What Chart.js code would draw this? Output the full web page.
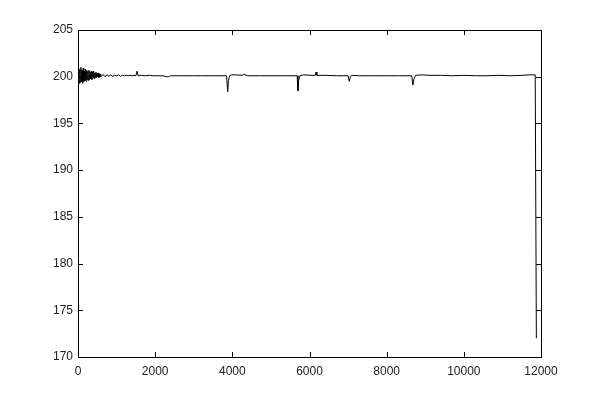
<!DOCTYPE html>
<html>
<head>
<meta charset="utf-8">
<script src="https://cdn.jsdelivr.net/npm/chart.js@4/dist/chart.umd.min.js"></script>
<style>
    html, body { margin: 0; padding: 0; background: #fff; }
</style>
</head>
<body>
<canvas id="grafico" width="598" height="402"></canvas>
<script>
// --- Dados ---
const amostras = [
    0, 15, 30, 45, 60, 75, 90, 105, 120, 135, 150, 165, 180, 195, 210, 225, 240, 255, 270, 285,
    300, 315, 330, 345, 360, 375, 390, 405, 420, 435, 450, 465, 480, 495, 510, 525, 540, 555, 570, 585,
    600, 650, 700, 750, 800, 850, 900, 950, 1000, 1050, 1100, 1150, 1200, 1250, 1300, 1350, 1400, 1450,
    1500, 1530, 1560, 1650, 1750, 1850, 1950, 2050, 2200, 2300, 2350, 2400, 2600, 2800, 3000, 3200,
    3400, 3600, 3850, 3880, 3900, 3930, 3980, 4100, 4250, 4300, 4400, 4700, 5000, 5300, 5680, 5700,
    5720, 5750, 5850, 6000, 6150, 6170, 6190, 6400, 6700, 7000, 7030, 7060, 7100, 7300, 7600, 8000,
    8300, 8650, 8680, 8710, 8750, 8900, 9100, 9400, 9700, 10000, 10300, 10600, 10900, 11200, 11500,
    11700, 11850, 11880
];
const sinal = [
    199.6, 200.9, 199.3, 200.8, 199.4, 201.0, 199.5, 200.7, 199.3, 200.9, 199.5, 200.6, 199.6, 200.8, 199.5, 200.7, 199.7, 200.6, 199.6, 200.7,
    199.7, 200.5, 199.8, 200.6, 199.7, 200.5, 199.9, 200.6, 199.8, 200.4, 199.9, 200.5, 199.9, 200.4, 200.0, 200.4, 199.9, 200.3, 200.0, 200.3,
    200.0, 200.25, 200.0, 200.2, 200.05, 200.2, 200.05, 200.15, 200.1, 200.2, 200.05, 200.15, 200.1, 200.15, 200.1, 200.15, 200.1, 200.15,
    200.1, 200.6, 200.1, 200.15, 200.1, 200.15, 200.1, 200.1, 200.1, 200.0, 200.0, 200.1, 200.1, 200.1, 200.1, 200.1,
    200.1, 200.1, 200.1, 198.4, 199.6, 200.1, 200.2, 200.2, 200.15, 200.25, 200.1, 200.1, 200.1, 200.1, 200.1, 198.5,
    199.6, 200.1, 200.2, 200.15, 200.15, 200.5, 200.15, 200.15, 200.1, 200.1, 199.5, 200.0, 200.15, 200.1, 200.1, 200.1,
    200.1, 200.1, 199.1, 199.8, 200.15, 200.2, 200.15, 200.15, 200.1, 200.15, 200.1, 200.1, 200.15, 200.1, 200.15,
    200.2, 200.2, 172.0
];
const ticksX = [0, 2000, 4000, 6000, 8000, 10000, 12000];
const ticksY = [170, 175, 180, 185, 190, 195, 200, 205];

// --- Moldura estilo MATLAB (caixa + marcas para dentro) ---
const moldura = {
    id: 'moldura',
    afterDraw(chart) {
        const { ctx, chartArea: a, scales } = chart;
        ctx.save();
        ctx.strokeStyle = '#000';
        ctx.lineWidth = 1;
        ctx.strokeRect(Math.round(a.left) + 0.5, Math.round(a.top) + 0.5,
            Math.round(a.right - a.left), Math.round(a.bottom - a.top));
        ctx.beginPath();
        ticksX.forEach(v => {
            const px = Math.round(scales.x.getPixelForValue(v)) + 0.5;
            ctx.moveTo(px, a.bottom); ctx.lineTo(px, a.bottom - 5);
            ctx.moveTo(px, a.top); ctx.lineTo(px, a.top + 5);
        });
        ticksY.forEach(v => {
            const py = Math.round(scales.y.getPixelForValue(v)) + 0.5;
            ctx.moveTo(a.left, py); ctx.lineTo(a.left + 5, py);
            ctx.moveTo(a.right, py); ctx.lineTo(a.right - 5, py);
        });
        ctx.stroke();
        ctx.restore();
    }
};

Chart.defaults.font.family = '"Liberation Sans", Arial, sans-serif';
Chart.defaults.font.size = 12;
Chart.defaults.color = '#222';

new Chart(document.getElementById('grafico').getContext('2d'), {
    type: 'line',
    data: {
        datasets: [{
            data: amostras.map((x, i) => ({ x: x, y: sinal[i] })),
            borderColor: '#000',
            borderWidth: 1,
            pointRadius: 0,
            tension: 0,
            fill: false
        }]
    },
    options: {
        responsive: false,
        animation: false,
        layout: { padding: { left: 0, top: 30, right: 57, bottom: 0 } },
        plugins: { legend: { display: false }, tooltip: { enabled: false } },
        scales: {
            x: {
                type: 'linear', min: 0, max: 12000,
                afterFit: s => { s.height = 45; },
                afterBuildTicks: s => { s.ticks = ticksX.map(v => ({ value: v })); },
                grid: { display: false, drawTicks: false },
                border: { display: false },
                ticks: { padding: 7, maxRotation: 0, callback: v => String(v) }
            },
            y: {
                type: 'linear', min: 170, max: 205,
                afterFit: s => { s.width = 78; },
                afterBuildTicks: s => { s.ticks = ticksY.map(v => ({ value: v })); },
                grid: { display: false, drawTicks: false },
                border: { display: false },
                ticks: { padding: 5, callback: v => String(v) }
            }
        }
    },
    plugins: [moldura]
});
</script>
</body>
</html>
